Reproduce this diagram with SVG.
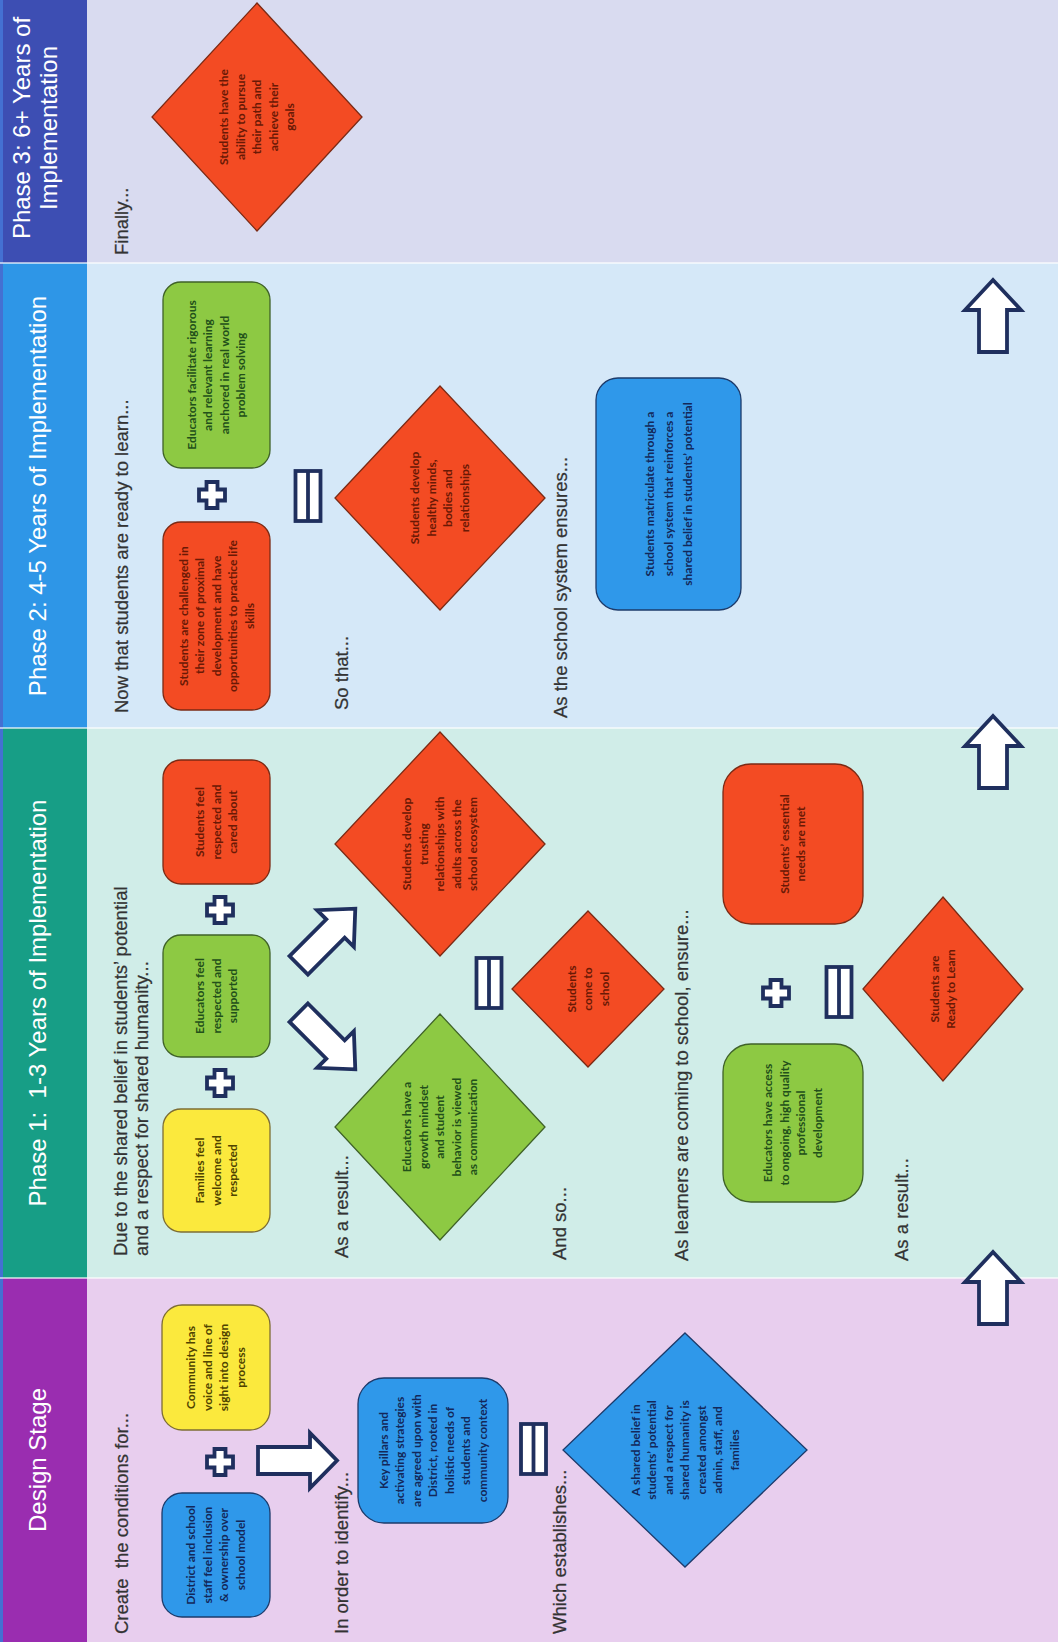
<svg xmlns="http://www.w3.org/2000/svg" xmlns:xlink="http://www.w3.org/1999/xlink" width="1058" height="1642" viewBox="0 0 1058 1642">
<defs>
<style>
.hdr-t{font-family:"Liberation Sans",Arial,sans-serif;font-size:24px;fill:#ffffff;text-anchor:middle;white-space:pre}
.lbl{font-family:"Liberation Sans",Arial,sans-serif;font-size:18.5px;fill:#333333;stroke:#333333;stroke-width:0.25;white-space:pre}
.nt{font-family:Lato,"Noto Sans",sans-serif;font-size:12px;font-weight:700;text-anchor:middle}
.red{fill:#F34B23;stroke:#7b2a14;stroke-width:1.3}
.red-t{fill:#6a1905}
.grn{fill:#8DC943;stroke:#3f6228;stroke-width:1.3}
.grn-t{fill:#22501a}
.yel{fill:#FBE93D;stroke:#7d6d34;stroke-width:1.3}
.yel-t{fill:#4f4300}
.blu{fill:#2F98EA;stroke:#1d3b6b;stroke-width:1.3}
.blu-t{fill:#13285a}
.sym{fill:#ffffff;stroke:#1F2F5E;stroke-width:3.8;stroke-linejoin:miter}
</style>
<path id="plus" d="M-5.5,-13 H5.5 V-5.5 H13 V5.5 H5.5 V13 H-5.5 V5.5 H-13 V-5.5 H-5.5 Z"/>
<g id="equals"><rect x="-12.5" y="-25" width="25" height="50"/><line x1="0" y1="-25" x2="0" y2="25"/></g>
<path id="uparrow" d="M0,0 L28,30 L14,30 L14,72 L-14,72 L-14,30 L-28,30 Z"/>
<path id="diagarrow" d="M-40,-13 H12 V-26 L40,0 L12,26 V13 H-40 Z"/>
</defs>

<g id="bands">
<rect x="0" y="0" width="1058" height="263" fill="#D9DBF0"/>
<rect x="0" y="263" width="1058" height="465" fill="#D5E8F8"/>
<rect x="0" y="728" width="1058" height="550" fill="#D0EDE8"/>
<rect x="0" y="1278" width="1058" height="364" fill="#E8CEEE"/>
<rect x="0" y="0" width="87" height="263" fill="#3D4EB3"/>
<rect x="0" y="263" width="87" height="465" fill="#2E96E7"/>
<rect x="0" y="728" width="87" height="550" fill="#179E86"/>
<rect x="0" y="1278" width="87" height="364" fill="#9A2DB0"/>
<rect x="0" y="0" width="3" height="1642" fill="#4470D2"/>
<g stroke="#ffffff" stroke-opacity="0.6" stroke-width="2">
<line x1="0" y1="263" x2="1058" y2="263"/>
<line x1="0" y1="728" x2="1058" y2="728"/>
<line x1="0" y1="1278" x2="1058" y2="1278"/>
</g>
</g>

<g id="headers">
<text class="hdr-t" transform="rotate(-90 30 128)" x="30" y="128">Phase 3: 6+ Years of</text>
<text class="hdr-t" transform="rotate(-90 57 128)" x="57" y="128">Implementation</text>
<text class="hdr-t" transform="rotate(-90 46 496)" x="46" y="496">Phase 2: 4-5 Years of Implementation</text>
<text class="hdr-t" xml:space="preserve" transform="rotate(-90 46 1003)" x="46" y="1003">Phase 1:  1-3 Years of Implementation</text>
<text class="hdr-t" transform="rotate(-90 46 1460)" x="46" y="1460">Design Stage</text>
</g>

<g id="labels">
<text class="lbl" transform="rotate(-90 128 255)" x="128" y="255">Finally...</text>
<text class="lbl" transform="rotate(-90 128 713)" x="128" y="713">Now that students are ready to learn...</text>
<text class="lbl" transform="rotate(-90 348 710)" x="348" y="710">So that...</text>
<text class="lbl" transform="rotate(-90 567 718)" x="567" y="718">As the school system ensures...</text>
<text class="lbl" transform="rotate(-90 127 1256)" x="127" y="1256">Due to the shared belief in students’ potential</text>
<text class="lbl" transform="rotate(-90 148 1256)" x="148" y="1256">and a respect for shared humanity...</text>
<text class="lbl" transform="rotate(-90 348 1258)" x="348" y="1258">As a result...</text>
<text class="lbl" transform="rotate(-90 566 1260)" x="566" y="1260">And so...</text>
<text class="lbl" transform="rotate(-90 688 1261)" x="688" y="1261">As learners are coming to school, ensure...</text>
<text class="lbl" transform="rotate(-90 908 1261)" x="908" y="1261">As a result...</text>
<text class="lbl" xml:space="preserve" transform="rotate(-90 128 1634)" x="128" y="1634">Create  the conditions for...</text>
<text class="lbl" transform="rotate(-90 348 1634)" x="348" y="1634">In order to identify...</text>
<text class="lbl" transform="rotate(-90 566 1634)" x="566" y="1634">Which establishes...</text>
</g>

<g id="connectors">
<use xlink:href="#uparrow" href="#uparrow" class="sym" transform="translate(993 280)"/>
<use xlink:href="#uparrow" href="#uparrow" class="sym" transform="translate(993 716)"/>
<use xlink:href="#uparrow" href="#uparrow" class="sym" transform="translate(993 1252)"/>
<path class="sym" d="M258,1447 H310 V1433 L337,1460.5 L310,1488 V1474 H258 Z"/>
<use xlink:href="#diagarrow" href="#diagarrow" class="sym" transform="translate(327 937) rotate(-45)"/>
<use xlink:href="#diagarrow" href="#diagarrow" class="sym" transform="translate(327 1041) rotate(45)"/>
</g>

<g id="operators">
<use xlink:href="#plus" href="#plus" class="sym" transform="translate(212 495)"/>
<use xlink:href="#plus" href="#plus" class="sym" transform="translate(220 910)"/>
<use xlink:href="#plus" href="#plus" class="sym" transform="translate(220 1083)"/>
<use xlink:href="#plus" href="#plus" class="sym" transform="translate(776 993)"/>
<use xlink:href="#plus" href="#plus" class="sym" transform="translate(220 1462)"/>
<use xlink:href="#equals" href="#equals" class="sym" transform="translate(308 496)"/>
<use xlink:href="#equals" href="#equals" class="sym" transform="translate(489 983)"/>
<use xlink:href="#equals" href="#equals" class="sym" transform="translate(839 992)"/>
<use xlink:href="#equals" href="#equals" class="sym" transform="translate(533.5 1449)"/>
</g>

<g id="node-p3-goals">
<polygon class="red" points="257,3 362,117 257,231 152,117"/>
<text class="nt red-t" transform="rotate(-90 257 117)" x="257" y="88.2"><tspan x="257">Students have the</tspan><tspan x="257" dy="16.5">ability to pursue</tspan><tspan x="257" dy="16.5">their path and</tspan><tspan x="257" dy="16.5">achieve their</tspan><tspan x="257" dy="16.5">goals</tspan></text>
</g>

<g id="node-p2-educators">
<rect class="grn" x="163" y="282" width="107" height="186" rx="18"/>
<text class="nt grn-t" transform="rotate(-90 216.5 375)" x="216.5" y="354.45"><tspan x="216.5">Educators facilitate rigorous</tspan><tspan x="216.5" dy="16.5">and relevant learning</tspan><tspan x="216.5" dy="16.5">anchored in real world</tspan><tspan x="216.5" dy="16.5">problem solving</tspan></text>
</g>

<g id="node-p2-challenged">
<rect class="red" x="163" y="522" width="107" height="188" rx="18"/>
<text class="nt red-t" transform="rotate(-90 216.5 616)" x="216.5" y="587.2"><tspan x="216.5">Students are challenged in</tspan><tspan x="216.5" dy="16.5">their zone of proximal</tspan><tspan x="216.5" dy="16.5">development and have</tspan><tspan x="216.5" dy="16.5">opportunities to practice life</tspan><tspan x="216.5" dy="16.5">skills</tspan></text>
</g>

<g id="node-p2-healthy">
<polygon class="red" points="440,386 545,498 440,610 335,498"/>
<text class="nt red-t" transform="rotate(-90 440 498)" x="440" y="477.45"><tspan x="440">Students develop</tspan><tspan x="440" dy="16.5">healthy minds,</tspan><tspan x="440" dy="16.5">bodies and</tspan><tspan x="440" dy="16.5">relationships</tspan></text>
</g>

<g id="node-p2-matriculate">
<rect class="blu" x="596" y="378" width="145" height="232" rx="22"/>
<text class="nt blu-t" transform="rotate(-90 668.5 494)" x="668.5" y="479.2"><tspan x="668.5">Students matriculate through a</tspan><tspan x="668.5" dy="19">school system that reinforces a</tspan><tspan x="668.5" dy="19">shared belief in students’ potential</tspan></text>
</g>

<g id="node-p1-students-feel">
<rect class="red" x="163" y="760" width="107" height="124" rx="18"/>
<text class="nt red-t" transform="rotate(-90 216.5 822)" x="216.5" y="809.7"><tspan x="216.5">Students feel</tspan><tspan x="216.5" dy="16.5">respected and</tspan><tspan x="216.5" dy="16.5">cared about</tspan></text>
</g>

<g id="node-p1-educators-feel">
<rect class="grn" x="163" y="935" width="107" height="122" rx="18"/>
<text class="nt grn-t" transform="rotate(-90 216.5 996)" x="216.5" y="983.7"><tspan x="216.5">Educators feel</tspan><tspan x="216.5" dy="16.5">respected and</tspan><tspan x="216.5" dy="16.5">supported</tspan></text>
</g>

<g id="node-p1-families">
<rect class="yel" x="163" y="1109" width="107" height="123" rx="18"/>
<text class="nt yel-t" transform="rotate(-90 216.5 1170.5)" x="216.5" y="1158.2"><tspan x="216.5">Families feel</tspan><tspan x="216.5" dy="16.5">welcome and</tspan><tspan x="216.5" dy="16.5">respected</tspan></text>
</g>

<g id="node-p1-trusting">
<polygon class="red" points="440,732 545,844 440,956 335,844"/>
<text class="nt red-t" transform="rotate(-90 440 844)" x="440" y="815.2"><tspan x="440">Students develop</tspan><tspan x="440" dy="16.5">trusting</tspan><tspan x="440" dy="16.5">relationships with</tspan><tspan x="440" dy="16.5">adults across the</tspan><tspan x="440" dy="16.5">school ecosystem</tspan></text>
</g>

<g id="node-p1-growth">
<polygon class="grn" points="440,1014 545,1127 440,1240 335,1127"/>
<text class="nt grn-t" transform="rotate(-90 440 1127)" x="440" y="1098.2"><tspan x="440">Educators have a</tspan><tspan x="440" dy="16.5">growth mindset</tspan><tspan x="440" dy="16.5">and student</tspan><tspan x="440" dy="16.5">behavior is viewed</tspan><tspan x="440" dy="16.5">as communication</tspan></text>
</g>

<g id="node-p1-come">
<polygon class="red" points="588,911 664,989 588,1067 512,989"/>
<text class="nt red-t" transform="rotate(-90 588 989)" x="588" y="976.7"><tspan x="588">Students</tspan><tspan x="588" dy="16.5">come to</tspan><tspan x="588" dy="16.5">school</tspan></text>
</g>

<g id="node-p1-needs">
<rect class="red" x="723" y="764" width="140" height="160" rx="28"/>
<text class="nt red-t" transform="rotate(-90 793 844)" x="793" y="839.95"><tspan x="793">Students’ essential</tspan><tspan x="793" dy="16.5">needs are met</tspan></text>
</g>

<g id="node-p1-pd">
<rect class="grn" x="723" y="1044" width="140" height="158" rx="28"/>
<text class="nt grn-t" transform="rotate(-90 793 1123)" x="793" y="1102.45"><tspan x="793">Educators have access</tspan><tspan x="793" dy="16.5">to ongoing, high quality</tspan><tspan x="793" dy="16.5">professional</tspan><tspan x="793" dy="16.5">development</tspan></text>
</g>

<g id="node-p1-ready">
<polygon class="red" points="943,897 1023,989 943,1081 863,989"/>
<text class="nt red-t" transform="rotate(-90 943 989)" x="943" y="984.95"><tspan x="943">Students are</tspan><tspan x="943" dy="16.5">Ready to Learn</tspan></text>
</g>

<g id="node-ds-community">
<rect class="yel" x="162" y="1305" width="108" height="125" rx="20"/>
<text class="nt yel-t" transform="rotate(-90 216 1367.5)" x="216" y="1346.95"><tspan x="216">Community has</tspan><tspan x="216" dy="16.5">voice and line of</tspan><tspan x="216" dy="16.5">sight into design</tspan><tspan x="216" dy="16.5">process</tspan></text>
</g>

<g id="node-ds-district">
<rect class="blu" x="162" y="1493" width="108" height="124" rx="20"/>
<text class="nt blu-t" transform="rotate(-90 216 1555)" x="216" y="1534.45"><tspan x="216">District and school</tspan><tspan x="216" dy="16.5">staff feel inclusion</tspan><tspan x="216" dy="16.5">&amp; ownership over</tspan><tspan x="216" dy="16.5">school model</tspan></text>
</g>

<g id="node-ds-pillars">
<rect class="blu" x="358" y="1378" width="150" height="145" rx="26"/>
<text class="nt blu-t" transform="rotate(-90 433 1450.5)" x="433" y="1405.2"><tspan x="433">Key pillars and</tspan><tspan x="433" dy="16.5">activating strategies</tspan><tspan x="433" dy="16.5">are agreed upon with</tspan><tspan x="433" dy="16.5">District, rooted in</tspan><tspan x="433" dy="16.5">holistic needs of</tspan><tspan x="433" dy="16.5">students and</tspan><tspan x="433" dy="16.5">community context</tspan></text>
</g>

<g id="node-ds-belief">
<polygon class="blu" points="685,1333 807,1450 685,1567 563,1450"/>
<text class="nt blu-t" transform="rotate(-90 685 1450)" x="685" y="1404.7"><tspan x="685">A shared belief in</tspan><tspan x="685" dy="16.5">students’ potential</tspan><tspan x="685" dy="16.5">and a respect for</tspan><tspan x="685" dy="16.5">shared humanity is</tspan><tspan x="685" dy="16.5">created amongst</tspan><tspan x="685" dy="16.5">admin, staff, and</tspan><tspan x="685" dy="16.5">families</tspan></text>
</g>
</svg>
